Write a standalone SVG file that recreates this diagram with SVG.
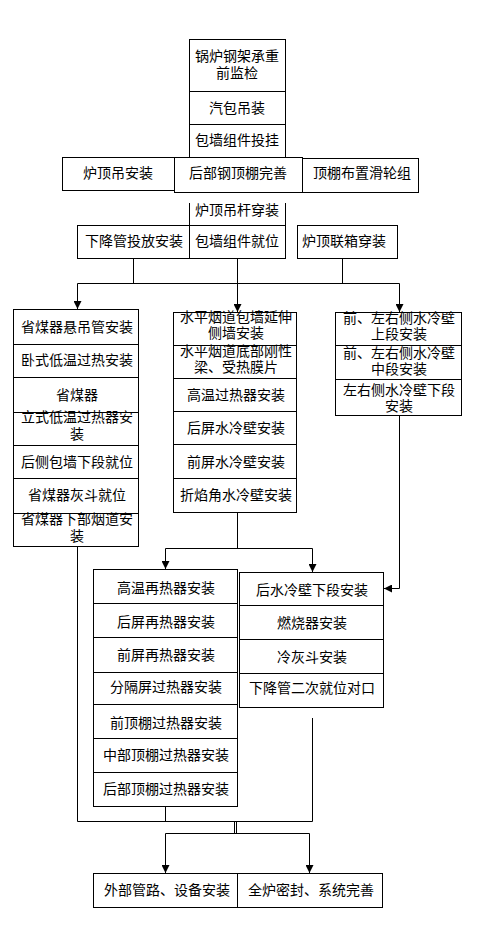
<svg xmlns="http://www.w3.org/2000/svg" width="485" height="927" viewBox="0 0 485 927">
<defs>
<style>
.b{fill:#fff;stroke:#000;stroke-width:1}
.t{font-family:"Liberation Sans","Noto Sans CJK SC",sans-serif;font-size:14px;fill:#000;text-anchor:middle}
.c{fill:none;stroke:#000;stroke-width:1}
</style>
<marker id="ah" markerUnits="userSpaceOnUse" markerWidth="8" markerHeight="8" refX="8" refY="4" orient="auto" viewBox="0 0 8 8"><path d="M0,0 L8,4 L0,8 z" fill="#000"/></marker>
</defs>
<rect width="485" height="927" fill="#fff"/>
<g id="nodes">
<g id="n1"><rect class="b" x="189.5" y="39.5" width="96" height="52"/><text class="t" x="237" y="61">锅炉钢架承重</text><text class="t" x="237" y="78">前监检</text></g>
<g id="n2"><rect class="b" x="189.5" y="91.5" width="96" height="33"/><text class="t" x="237" y="113">汽包吊装</text></g>
<g id="n3"><rect class="b" x="189.5" y="124.5" width="96" height="33"/><text class="t" x="237" y="145">包墙组件投挂</text></g>
<g id="n4"><rect class="b" x="62.5" y="157.5" width="112" height="33"/><text class="t" x="118" y="178">炉顶吊安装</text></g>
<g id="n5"><rect class="b" x="174.5" y="157.5" width="128" height="35"/><text class="t" x="238" y="178">后部钢顶棚完善</text></g>
<g id="n6"><rect class="b" x="302.5" y="158.5" width="116" height="34"/><text class="t" x="362" y="178">顶棚布置滑轮组</text></g>
<g id="n7"><path class="c" d="M189.5,203 V225.5 H285.5 V203"/><text class="t" x="237" y="215">炉顶吊杆穿装</text></g>
<g id="n8"><rect class="b" x="77.5" y="225.5" width="112" height="33"/><text class="t" x="134" y="246">下降管投放安装</text></g>
<g id="n9"><rect class="b" x="189.5" y="225.5" width="96" height="33"/><text class="t" x="237" y="246">包墙组件就位</text></g>
<g id="n10"><rect class="b" x="297.5" y="225.5" width="100" height="33"/><text class="t" x="344" y="246">炉顶联箱穿装</text></g>

<g id="l1"><rect class="b" x="13.5" y="309.5" width="125" height="35"/><text class="t" x="77" y="332">省煤器悬吊管安装</text></g>
<g id="l2"><rect class="b" x="13.5" y="344.5" width="125" height="33"/><text class="t" x="77" y="365">卧式低温过热安装</text></g>
<g id="l3"><rect class="b" x="13.5" y="377.5" width="125" height="35"/><text class="t" x="77" y="400">省煤器</text></g>
<g id="l4"><rect class="b" x="13.5" y="412.5" width="125" height="33"/><text class="t" x="77" y="422">立式低温过热器安</text><text class="t" x="77" y="439">装</text></g>
<g id="l5"><rect class="b" x="13.5" y="445.5" width="125" height="33"/><text class="t" x="77" y="467">后侧包墙下段就位</text></g>
<g id="l6"><rect class="b" x="13.5" y="478.5" width="125" height="35"/><text class="t" x="77" y="500">省煤器灰斗就位</text></g>
<g id="l7"><rect class="b" x="13.5" y="513.5" width="125" height="33"/><text class="t" x="77" y="524">省煤器下部烟道安</text><text class="t" x="77" y="541">装</text></g>

<g id="c1"><rect class="b" x="173.5" y="312.5" width="123" height="33"/><text class="t" x="236" y="322">水平烟道包墙延伸</text><text class="t" x="236" y="338">侧墙安装</text></g>
<g id="c2"><rect class="b" x="173.5" y="345.5" width="123" height="33"/><text class="t" x="236" y="356">水平烟道底部刚性</text><text class="t" x="236" y="372">梁、受热膜片</text></g>
<g id="c3"><rect class="b" x="173.5" y="378.5" width="123" height="33"/><text class="t" x="236" y="400">高温过热器安装</text></g>
<g id="c4"><rect class="b" x="173.5" y="411.5" width="123" height="33"/><text class="t" x="236" y="433">后屏水冷壁安装</text></g>
<g id="c5"><rect class="b" x="173.5" y="444.5" width="123" height="34"/><text class="t" x="236" y="467">前屏水冷壁安装</text></g>
<g id="c6"><rect class="b" x="173.5" y="478.5" width="123" height="34"/><text class="t" x="236" y="500">折焰角水冷壁安装</text></g>

<g id="r1"><rect class="b" x="335.5" y="312.5" width="126" height="33"/><text class="t" x="399" y="323">前、左右侧水冷壁</text><text class="t" x="399" y="339">上段安装</text></g>
<g id="r2"><rect class="b" x="335.5" y="345.5" width="126" height="34"/><text class="t" x="399" y="358">前、左右侧水冷壁</text><text class="t" x="399" y="374">中段安装</text></g>
<g id="r3"><rect class="b" x="335.5" y="379.5" width="126" height="36"/><text class="t" x="399" y="395">左右侧水冷壁下段</text><text class="t" x="399" y="411">安装</text></g>

<g id="ll1"><rect class="b" x="93.5" y="569.5" width="144" height="34"/><text class="t" x="166" y="593">高温再热器安装</text></g>
<g id="ll2"><rect class="b" x="93.5" y="603.5" width="144" height="34"/><text class="t" x="166" y="627">后屏再热器安装</text></g>
<g id="ll3"><rect class="b" x="93.5" y="637.5" width="144" height="35"/><text class="t" x="166" y="660">前屏再热器安装</text></g>
<g id="ll4"><rect class="b" x="93.5" y="672.5" width="144" height="32"/><text class="t" x="166" y="692">分隔屏过热器安装</text></g>
<g id="ll5"><rect class="b" x="93.5" y="704.5" width="144" height="34"/><text class="t" x="166" y="728">前顶棚过热器安装</text></g>
<g id="ll6"><rect class="b" x="93.5" y="738.5" width="144" height="34"/><text class="t" x="166" y="760">中部顶棚过热器安装</text></g>
<g id="ll7"><rect class="b" x="93.5" y="772.5" width="144" height="34"/><text class="t" x="166" y="794">后部顶棚过热器安装</text></g>

<g id="lr1"><rect class="b" x="239.5" y="572.5" width="144" height="33"/><text class="t" x="312" y="595">后水冷壁下段安装</text></g>
<g id="lr2"><rect class="b" x="239.5" y="605.5" width="144" height="34"/><text class="t" x="312" y="628">燃烧器安装</text></g>
<g id="lr3"><rect class="b" x="239.5" y="639.5" width="144" height="34"/><text class="t" x="312" y="662">冷灰斗安装</text></g>
<g id="lr4"><rect class="b" x="239.5" y="673.5" width="144" height="34"/><text class="t" x="312" y="693">下降管二次就位对口</text></g>

<g id="b1"><rect class="b" x="93.5" y="873.5" width="144" height="34"/><text class="t" x="167" y="895">外部管路、设备安装</text></g>
<g id="b2"><rect class="b" x="237.5" y="873.5" width="145" height="34"/><text class="t" x="311" y="895">全炉密封、系统完善</text></g>
</g>
<g id="connectors">
<path class="c" d="M133.5,258.5 V283.5 M237.5,258.5 V283.5 M342.5,258.5 V283.5 M77.5,283.5 H399.5"/>
<path class="c" d="M77.5,283.5 V309" marker-end="url(#ah)"/>
<path class="c" d="M237.5,283.5 V312" marker-end="url(#ah)"/>
<path class="c" d="M399.5,283.5 V312" marker-end="url(#ah)"/>
<path class="c" d="M237.5,512.5 V548.5 M165.5,548.5 H312.5"/>
<path class="c" d="M165.5,548.5 V569" marker-end="url(#ah)"/>
<path class="c" d="M312.5,548.5 V572" marker-end="url(#ah)"/>
<path class="c" d="M399.5,415.5 V588.5 H384" marker-end="url(#ah)"/>
<path class="c" d="M77.5,546.5 V821.5 H312.5 V718 M165.5,806.5 V821.5 M234.5,821.5 V833.5 M236.5,821.5 V833.5 M165.5,833.5 H309.5"/>
<path class="c" d="M165.5,833.5 V873" marker-end="url(#ah)"/>
<path class="c" d="M309.5,833.5 V873" marker-end="url(#ah)"/>
</g>
</svg>
